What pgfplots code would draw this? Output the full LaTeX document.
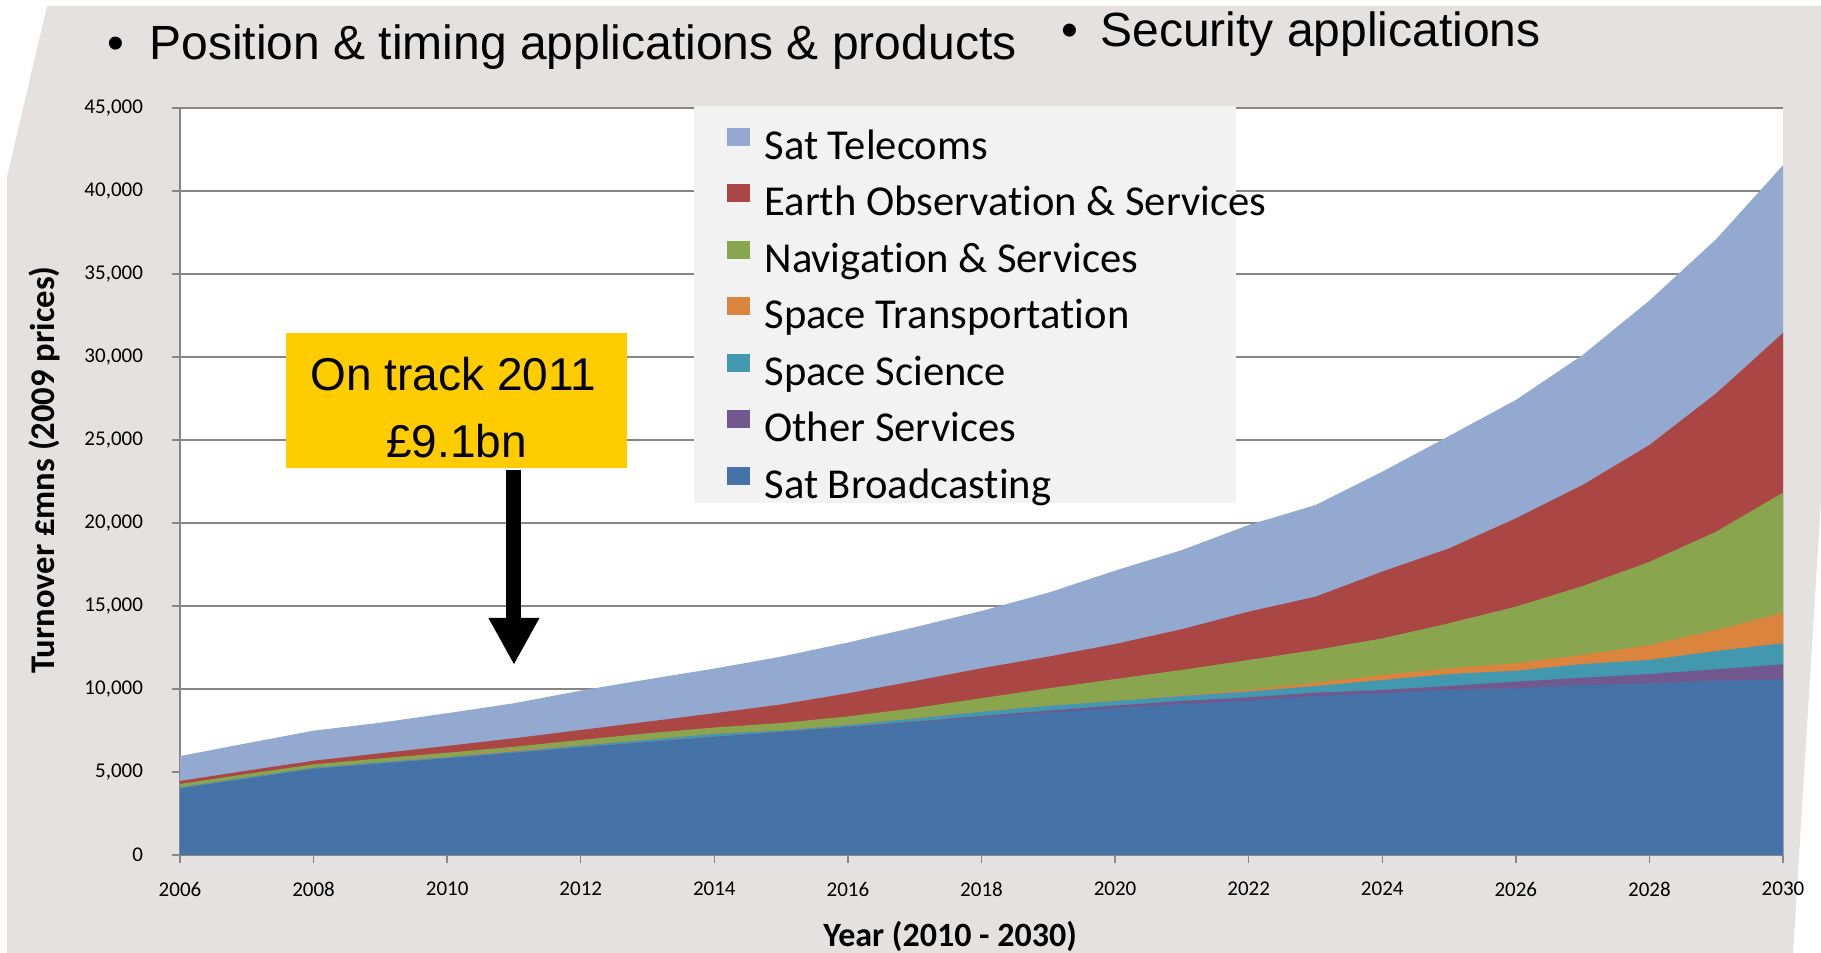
\documentclass[border=0pt]{standalone}
\usepackage{fontspec}
\setmainfont{Carlito}[Ligatures={TeX,NoCommon}]
\newfontfamily\arialfont{Liberation Sans}
\usepackage{pgfplots}
\pgfplotsset{compat=1.18}
\usepackage{pgfplotstable}
\usetikzlibrary{arrows.meta}

\definecolor{bcast}{HTML}{4572A7}
\definecolor{other}{HTML}{71588F}
\definecolor{science}{HTML}{4198AF}
\definecolor{transp}{HTML}{DB843D}
\definecolor{navig}{HTML}{89A54E}
\definecolor{earth}{HTML}{AA4643}
\definecolor{telecom}{HTML}{93A9CF}
\definecolor{slidegray}{HTML}{E4E1E0}
\definecolor{axgray}{HTML}{868686}
\definecolor{leggray}{HTML}{F2F2F2}
\definecolor{boxyellow}{HTML}{FFCC00}

% cumulative (stacked) values, GBP m, 2009 prices
\pgfplotstableread{
year B O S T N E Tc
2006 3980 4000 4080 4090 4280 4460 5960
2007 4570 4590 4680 4690 4880 5080 6730
2008 5160 5180 5260 5270 5460 5680 7490
2009 5480 5500 5590 5610 5820 6130 7970
2010 5800 5820 5900 5930 6160 6570 8540
2011 6130 6150 6240 6300 6520 7030 9140
2012 6450 6480 6600 6630 6930 7530 9900
2013 6770 6800 6940 6960 7330 8030 10580
2014 7090 7120 7300 7320 7680 8540 11230
2015 7370 7410 7500 7520 7950 9070 11950
2016 7660 7710 7830 7850 8350 9740 12800
2017 7970 8030 8230 8250 8850 10480 13720
2018 8290 8370 8630 8650 9450 11250 14700
2019 8570 8700 8990 9010 10040 11950 15800
2020 8850 9000 9280 9300 10600 12710 17130
2021 9090 9280 9580 9620 11150 13600 18370
2022 9290 9500 9850 9950 11750 14660 19880
2023 9580 9780 10180 10380 12350 15560 21080
2024 9740 9940 10540 10840 13050 17070 23090
2025 9940 10180 10900 11240 13960 18470 25240
2026 10040 10440 11100 11550 14960 20280 27410
2027 10240 10680 11500 12050 16200 22290 30120
2028 10340 10900 11750 12650 17660 24700 33400
2029 10500 11190 12290 13550 19480 27810 37100
2030 10580 11490 12750 14600 21830 31450 41550
}\data

\begin{document}
\begin{tikzpicture}
\path[use as bounding box, fill=white] (0pt,0pt) rectangle (910.5pt,476.5pt);
\fill[slidegray] (23.5pt,473.5pt) -- (910.5pt,473.5pt) -- (910.5pt,226.5pt) -- (896.5pt,0pt) -- (3.5pt,0pt) -- (3.5pt,388pt) -- cycle;

\node[font=\arialfont\fontsize{24}{28}\selectfont, anchor=base] at (58pt,446.5pt) {•};
\node[font=\arialfont\fontsize{24}{28}\selectfont, anchor=base west, inner sep=0pt] at (74.5pt,446.5pt) {Position \& timing applications \& products};
\node[font=\arialfont\fontsize{24}{28}\selectfont, anchor=base] at (535pt,453.2pt) {•};
\node[font=\arialfont\fontsize{24}{28}\selectfont, anchor=base west, inner sep=0pt] at (550pt,453.2pt) {Security applications};

\begin{axis}[
  at={(90pt,49pt)}, anchor=south west,
  scale only axis, width=801.5pt, height=373.5pt,
  xmin=2006, xmax=2030, ymin=0, ymax=45000,
  xtick={2006,2008,...,2030}, ytick={0,5000,...,45000},
  scaled y ticks=false,
  axis x line*=bottom, axis y line*=left,
  axis line style={draw=axgray, line width=0.7pt},
  tick style={draw=axgray, line width=0.7pt},
  tick align=outside, major tick length=4pt,
  ymajorgrids, grid style={draw=axgray, line width=0.7pt},
  axis background/.style={fill=white},
  ticklabel style={font=\fontsize{10.5}{12}\selectfont},
  /pgf/number format/assume math mode=true,
  xticklabel style={/pgf/number format/1000 sep={}, yshift=-6pt},
  yticklabel style={/pgf/number format/1000 sep={,}, xshift=-11pt},
  xlabel={Year (2010 - 2030)},
  ylabel={Turnover £mns (2009 prices)},
  xlabel style={at={(axis description cs:0.4804,-0.1084)}, anchor=center, font=\bfseries\fontsize{17}{20}\selectfont},
  ylabel style={at={(axis description cs:-0.0848,0.5154)}, anchor=center, font=\bfseries\fontsize{17.3}{20}\selectfont},
  clip=false,
  legend style={at={(0.34123,0.98434)}, anchor=north west, draw=none, fill=none,
    inner sep=0pt, outer sep=0pt, row sep=0pt, column sep=7.25pt,
    font=\fontsize{21.3}{25}\selectfont,
    nodes={inner sep=0pt, text height=19.8pt, text depth=8.45pt}},
  legend cell align=left,
  legend image code/.code={\fill[#1] (0pt,1.1pt) rectangle (11.5pt,10.1pt);},
]
\addplot[fill=telecom, draw=none] table[x=year, y=Tc] {\data} \closedcycle;
\addlegendentry{Sat Telecoms}
\addplot[fill=earth, draw=none] table[x=year, y=E] {\data} \closedcycle;
\addlegendentry{Earth Observation \& Services}
\addplot[fill=navig, draw=none] table[x=year, y=N] {\data} \closedcycle;
\addlegendentry{Navigation \& Services}
\addplot[fill=transp, draw=none] table[x=year, y=T] {\data} \closedcycle;
\addlegendentry{Space Transportation}
\addplot[fill=science, draw=none] table[x=year, y=S] {\data} \closedcycle;
\addlegendentry{Space Science}
\addplot[fill=other, draw=none] table[x=year, y=O] {\data} \closedcycle;
\addlegendentry{Other Services}
\addplot[fill=bcast, draw=none] table[x=year, y=B] {\data} \closedcycle;
\addlegendentry{Sat Broadcasting}

\fill[leggray] (rel axis cs:0.3207,0.4712) rectangle (rel axis cs:0.6588,1.0027);

\fill[boxyellow] (axis cs:2007.587,23331) rectangle (axis cs:2012.693,31463);
\node[anchor=base, inner sep=0pt, font=\arialfont\fontsize{23}{27}\selectfont] at (axis cs:2010.095,28012) {On track 2011};
\node[anchor=base, inner sep=0pt, font=\arialfont\fontsize{23}{27}\selectfont] at (axis cs:2010.14,23934) {£9.1bn};
\draw[line width=7.5pt, -{Triangle[width=23.7pt,length=23.5pt]}] (axis cs:2011,23190) -- (axis cs:2011,11446);
\end{axis}
\end{tikzpicture}
\end{document}
